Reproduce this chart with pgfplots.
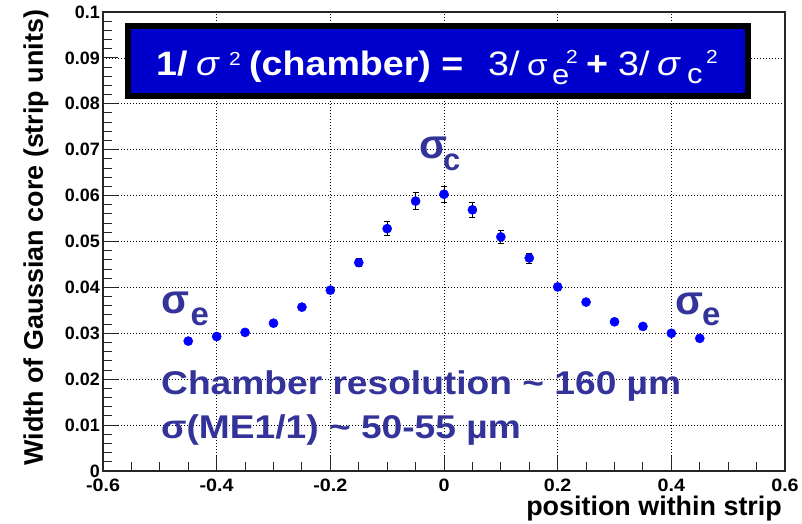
\documentclass[border=0pt]{standalone}
\usepackage{fontspec}
\setmainfont{Liberation Sans}
\newfontfamily\notefont[FakeStretch=1.13]{Liberation Sans}
\newfontfamily\boxfont[FakeStretch=1.11]{Liberation Sans}
\newfontfamily\xtickfont[FakeStretch=1.1]{Liberation Sans}
\usepackage{pgfplots}
\pgfplotsset{compat=1.18}
\definecolor{markblue}{RGB}{0,0,255}
\definecolor{notecol}{RGB}{51,51,153}
\definecolor{boxblue}{RGB}{0,0,204}

% width of the Gaussian core vs. position within strip
\pgfplotstableread{
x      y       e
-0.45  0.0283  0.0005
-0.40  0.0293  0.0005
-0.35  0.0302  0.0005
-0.30  0.0322  0.0005
-0.25  0.0357  0.0006
-0.20  0.0394  0.0007
-0.15  0.0454  0.0009
-0.10  0.0528  0.0015
-0.05  0.0588  0.0018
 0.00  0.0603  0.0018
 0.05  0.0569  0.0017
 0.10  0.0510  0.0014
 0.15  0.0464  0.0011
 0.20  0.0401  0.0007
 0.25  0.0368  0.0006
 0.30  0.0325  0.0005
 0.35  0.0315  0.0005
 0.40  0.0300  0.0005
 0.45  0.0289  0.0005
}\coretable

\begin{document}
\begin{tikzpicture}
\useasboundingbox (0,0) rectangle (802bp,524bp);
\begin{axis}[
  at={(103bp,53bp)}, anchor=south west,
  width=682bp, height=459bp, scale only axis,
  xmin=-0.6, xmax=0.6, ymin=0, ymax=0.1,
  xtick={-0.6,-0.4,-0.2,0,0.2,0.4,0.6},
  xticklabels={-0.6,-0.4,-0.2,0,0.2,0.4,0.6},
  ytick={0,0.01,0.02,0.03,0.04,0.05,0.06,0.07,0.08,0.09,0.1},
  yticklabels={0,0.01,0.02,0.03,0.04,0.05,0.06,0.07,0.08,0.09,0.1},
  minor x tick num=3, minor y tick num=4,
  tick align=inside, xtick pos=bottom, ytick pos=left,
  major tick length=15bp, minor tick length=9bp,
  every tick/.style={black!85, line width=1bp},
  grid=major,
  major grid style={black, line width=0.7bp, dash pattern=on 0.9bp off 2.1bp},
  axis line style={line width=1.2bp, black!85},
  yticklabel style={font=\bfseries\fontsize{18}{18}\selectfont, inner sep=3bp},
  xticklabel style={font=\xtickfont\bfseries\fontsize{18}{18}\selectfont,
    inner sep=1bp, text depth=0pt, yshift=-7bp},
  label style={font=\bfseries\fontsize{27}{27}\selectfont},
  xlabel={position within strip},
  ylabel={Width of Gaussian core (strip units)},
  xlabel style={at={(axis description cs:0.9956,-0.0959)}, anchor=base east,
    inner sep=0pt, text height=20bp, text depth=6bp},
  ylabel style={at={(axis description cs:-0.088,1.012)}, anchor=base east},
]
\addplot[only marks, mark=*, mark size=4.6bp, color=markblue,
  error bars/.cd, y dir=both, y explicit,
  error bar style={black, line width=0.8bp},
  error mark options={rotate=90, mark size=3bp, black, line width=0.8bp}]
  table[x=x, y=y, y error=e] {\coretable};
\end{axis}

% formula box
\draw[line width=6bp, fill=boxblue] (128bp,497.7bp) rectangle (748bp,427.7bp);
\begin{scope}[every node/.style={inner sep=0pt, anchor=base west, text=white}]
\node at (156bp,448bp) {\boxfont\bfseries\fontsize{34}{34}\selectfont 1/};
\node at (196bp,448bp) {\boxfont\itshape\fontsize{34}{34}\selectfont σ};
\node at (229bp,458bp) {\boxfont\fontsize{19}{19}\selectfont 2};
\node at (249bp,448bp) {\boxfont\bfseries\fontsize{34}{34}\selectfont (chamber) =};
\node at (488bp,448bp) {\boxfont\fontsize{34}{34}\selectfont 3/};
\node at (527bp,448bp) {\boxfont\fontsize{30}{30}\selectfont σ};
\node at (552bp,439.5bp) {\boxfont\fontsize{28}{28}\selectfont e};
\node at (566bp,460.7bp) {\boxfont\fontsize{19}{19}\selectfont 2};
\node at (586bp,448bp) {\boxfont\bfseries\fontsize{34}{34}\selectfont +};
\node at (618bp,448bp) {\boxfont\fontsize{34}{34}\selectfont 3/};
\node at (657bp,448bp) {\boxfont\itshape\fontsize{34}{34}\selectfont σ};
\node at (687bp,440bp) {\boxfont\fontsize{28}{28}\selectfont c};
\node at (706bp,460.7bp) {\boxfont\fontsize{19}{19}\selectfont 2};
\end{scope}

% annotations
\begin{scope}[every node/.style={inner sep=0pt, anchor=base west, text=notecol, font=\bfseries}]
\node at (419bp,365bp) {\fontsize{41}{41}\selectfont σ};
\node at (443bp,353.5bp) {\fontsize{31}{31}\selectfont c};
\node at (161.5bp,210bp) {\fontsize{41}{41}\selectfont σ};
\node at (190.5bp,198bp) {\fontsize{33}{33}\selectfont e};
\node at (675bp,209bp) {\fontsize{41}{41}\selectfont σ};
\node at (702bp,198bp) {\fontsize{33}{33}\selectfont e};
\node at (161bp,129bp) {\notefont\bfseries\fontsize{33}{33}\selectfont Chamber resolution \textasciitilde\ 160 µm};
\node at (161bp,85bp) {\notefont\bfseries\fontsize{33}{33}\selectfont σ(ME1/1) \textasciitilde\ 50-55 µm};
\end{scope}
\end{tikzpicture}
\end{document}
